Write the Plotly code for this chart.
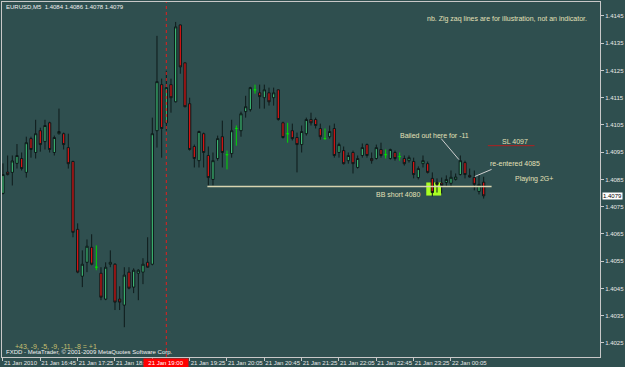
import plotly.graph_objects as go

# ---------------- data ----------------
bar_index = list(range(104))
opens = [1.40799,1.40877,1.40876,1.40909,1.40927,1.40876,1.41000,1.40949,1.41029,1.40989,
         1.41058,1.40949,1.41018,1.41018,1.40967,1.40916,1.40667,1.40495,1.40546,1.40601,
         1.40528,1.40506,1.40411,1.40539,1.40539,1.40411,1.40389,1.40510,1.40455,1.40506,
         1.40510,1.40546,1.40539,1.41029,1.41198,1.41058,1.41198,1.41135,1.41417,1.41278,
         1.41128,1.40971,1.40919,1.41018,1.40938,1.40850,1.40927,1.41007,1.40941,1.40945,
         1.41037,1.41029,1.41099,1.41106,1.41179,1.41168,1.41150,1.41168,1.41150,1.41179,
         1.41058,1.41018,1.41029,1.41004,1.40978,1.41018,1.41070,1.41070,1.41037,1.41000,
         1.41007,1.41037,1.40949,1.40956,1.40919,1.40949,1.40894,1.40938,1.40978,1.40927,
         1.40927,1.40960,1.40941,1.40927,1.40949,1.40934,1.40927,1.40919,1.40916,1.40857,
         1.40908,1.40908,1.40854,1.40839,1.40837,1.40839,1.40836,1.40850,1.40868,1.40912,
         1.40865,1.40857,1.40806,1.40840]
highs = [1.40909,1.40938,1.40938,1.40980,1.40949,1.41007,1.41007,1.41069,1.41040,1.41069,
         1.41062,1.41011,1.41110,1.41022,1.41018,1.40919,1.40689,1.40590,1.40630,1.40649,
         1.40608,1.40528,1.40546,1.40590,1.40543,1.40458,1.40528,1.40528,1.40524,1.40521,
         1.40561,1.40638,1.41077,1.41377,1.41220,1.41249,1.41220,1.41428,1.41418,1.41279,
         1.41150,1.40978,1.41029,1.41022,1.40971,1.40949,1.41011,1.41066,1.40956,1.41069,
         1.41048,1.41099,1.41157,1.41190,1.41198,1.41198,1.41198,1.41187,1.41187,1.41180,
         1.41062,1.41058,1.41055,1.41022,1.41048,1.41077,1.41095,1.41077,1.41055,1.41037,
         1.41048,1.41055,1.40985,1.40971,1.40949,1.40956,1.40938,1.40982,1.40982,1.40949,
         1.40978,1.40985,1.40960,1.40963,1.40956,1.40949,1.40938,1.40938,1.40930,1.40898,
         1.40938,1.40916,1.40876,1.40854,1.40857,1.40865,1.40883,1.40872,1.40938,1.40919,
         1.40890,1.40883,1.40868,1.40860]
lows = [1.40795,1.40865,1.40828,1.40890,1.40883,1.40857,1.40930,1.40927,1.40952,1.40960,
        1.40949,1.40938,1.41015,1.40960,1.40890,1.40638,1.40506,1.40455,1.40510,1.40535,
        1.40517,1.40407,1.40407,1.40528,1.40371,1.40371,1.40308,1.40447,1.40433,1.40407,
        1.40466,1.40526,1.40535,1.40967,1.40930,1.41029,1.41095,1.41133,1.41238,1.41115,
        1.40956,1.40894,1.40894,1.40894,1.40828,1.40828,1.40919,1.40894,1.40887,1.40930,
        1.40974,1.41007,1.41077,1.41099,1.41165,1.41110,1.41110,1.41121,1.41121,1.41066,
        1.41000,1.40985,1.40993,1.40876,1.40949,1.41011,1.41048,1.41037,1.40996,1.40996,
        1.41000,1.40930,1.40930,1.40905,1.40908,1.40872,1.40890,1.40930,1.40930,1.40908,
        1.40923,1.40930,1.40927,1.40923,1.40919,1.40919,1.40901,1.40912,1.40854,1.40850,
        1.40894,1.40872,1.40788,1.40802,1.40799,1.40824,1.40824,1.40846,1.40865,1.40854,
        1.40857,1.40810,1.40795,1.40780]
closes = [1.40868,1.40868,1.40918,1.40938,1.40890,1.40985,1.40960,1.41018,1.40978,1.41048,
          1.40960,1.41004,1.41026,1.40978,1.40908,1.40656,1.40510,1.40539,1.40605,1.40539,
          1.40528,1.40418,1.40528,1.40546,1.40400,1.40400,1.40499,1.40451,1.40517,1.40517,
          1.40539,1.40528,1.41018,1.41209,1.41037,1.41187,1.41150,1.41410,1.41263,1.41117,
          1.40960,1.40927,1.41026,1.40949,1.40857,1.40919,1.41000,1.40949,1.40941,1.41029,
          1.41037,1.41091,1.41117,1.41187,1.41179,1.41154,1.41179,1.41135,1.41168,1.41070,
          1.41004,1.41018,1.41000,1.40978,1.41026,1.41070,1.41058,1.41048,1.41007,1.41000,
          1.41026,1.40938,1.40978,1.40908,1.40938,1.40908,1.40927,1.40967,1.40938,1.40919,
          1.40967,1.40938,1.40941,1.40960,1.40927,1.40934,1.40908,1.40930,1.40868,1.40890,
          1.40919,1.40876,1.40802,1.40832,1.40828,1.40850,1.40858,1.40859,1.40919,1.40868,
          1.40859,1.40832,1.40832,1.40790]

tick_bars = [0, 8, 16, 24, 32, 40, 48, 56, 64, 72, 80, 88, 96]
# the 18:45 label is hidden behind the red vertical-line time box in the reference
tick_labels = ["21 Jan 2010", "21 Jan 16:45", "21 Jan 17:25", "21 Jan 18:05", "",
               "21 Jan 19:25", "21 Jan 20:05", "21 Jan 20:45", "21 Jan 21:25", "21 Jan 22:05",
               "21 Jan 22:45", "21 Jan 23:25", "22 Jan 00:05"]
price_ticks = [1.4025, 1.4035, 1.4045, 1.4055, 1.4065, 1.4075, 1.4085, 1.4095,
               1.4105, 1.4115, 1.4125, 1.4135, 1.4145]

vline_bar = 35
vline_label = "21 Jan 19:00"
bb_level = 1.40824
bb_start, bb_end = 43.8, 104.7
sl_level = 1.40974
entry_box = (90.7, 93.9, 1.40791, 1.40839)
last_price = 1.4079

# ---------------- figure ----------------
BG = "#2f4f4f"
AX = "#c8c8c8"
FONT = "Liberation Sans, Arial, sans-serif"

norm = [i for i in bar_index if opens[i] != closes[i]]
doji = [i for i in bar_index if opens[i] == closes[i]]

fig = go.Figure()
fig.add_trace(go.Candlestick(
    x=[bar_index[i] for i in norm],
    open=[opens[i] for i in norm], high=[highs[i] for i in norm],
    low=[lows[i] for i in norm], close=[closes[i] for i in norm],
    increasing=dict(fillcolor="#3cb371", line=dict(color="#0e1a1a", width=1)),
    decreasing=dict(fillcolor="#d41414", line=dict(color="#0e1a1a", width=1)),
    whiskerwidth=0, hoverinfo="skip", showlegend=False))
fig.add_trace(go.Candlestick(
    x=[bar_index[i] for i in doji],
    open=[opens[i] for i in doji], high=[highs[i] for i in doji],
    low=[lows[i] for i in doji], close=[closes[i] for i in doji],
    increasing=dict(fillcolor="#00dd00", line=dict(color="#00dd00", width=1)),
    decreasing=dict(fillcolor="#00dd00", line=dict(color="#00dd00", width=1)),
    whiskerwidth=0, hoverinfo="skip", showlegend=False))

shapes = [
    dict(type="line", xref="x", yref="paper", x0=vline_bar, x1=vline_bar, y0=0, y1=1,
         line=dict(color="#e02020", width=1, dash="dot")),
    dict(type="line", xref="x", yref="y", x0=bb_start, x1=bb_end, y0=bb_level, y1=bb_level,
         line=dict(color="#d8d4b0", width=1.5)),
    dict(type="rect", xref="x", yref="y", x0=entry_box[0], x1=entry_box[1],
         y0=entry_box[2], y1=entry_box[3], fillcolor="#aaff22", line=dict(width=0),
         layer="below"),
    dict(type="line", xref="x", yref="y", x0=103.9, x1=113.9, y0=sl_level, y1=sl_level,
         line=dict(color="#b02020", width=1)),
    dict(type="line", xref="x", yref="y", x0=93.9, x1=97.7, y0=1.41000, y1=1.40923,
         line=dict(color="#d0d0d0", width=1)),
    dict(type="line", xref="x", yref="y", x0=104.7, x1=101.1, y0=1.40887, y1=1.40861,
         line=dict(color="#d0d0d0", width=1)),
]

txt = "#e4e0b8"
annotations = [
    dict(x=0.004, y=0.986, xref="paper", yref="paper", xanchor="left", yanchor="middle",
         text="EURUSD,M5  1.4084 1.4086 1.4078 1.4079", showarrow=False,
         font=dict(size=6, color="#f0f0f0", family=FONT)),
    dict(x=0.982, y=0.952, xref="paper", yref="paper", xanchor="right", yanchor="middle",
         text="nb. Zig zaq lines are for illustration, not an indicator.", showarrow=False,
         font=dict(size=7, color=txt, family=FONT)),
    dict(x=84.7, y=1.41011, xanchor="left", yanchor="middle", text="Bailed out here for -11",
         showarrow=False, font=dict(size=7, color=txt, family=FONT)),
    dict(x=109.7, y=1.40989, xanchor="center", yanchor="middle", text="SL 4097",
         showarrow=False, font=dict(size=7, color=txt, family=FONT)),
    dict(x=109.7, y=1.40908, xanchor="center", yanchor="middle", text="re-entered 4085",
         showarrow=False, font=dict(size=7, color=txt, family=FONT)),
    dict(x=113.8, y=1.40850, xanchor="center", yanchor="middle", text="Playing 2G+",
         showarrow=False, font=dict(size=7, color=txt, family=FONT)),
    dict(x=84.7, y=1.40795, xanchor="center", yanchor="middle", text="BB short 4080",
         showarrow=False, font=dict(size=7, color=txt, family=FONT)),
    dict(x=0.018, y=0.029, xref="paper", yref="paper", xanchor="left", yanchor="middle",
         text="+43, -9, -5, -9, -11, -8 = +1", showarrow=False,
         font=dict(size=7, color="#c8c070", family=FONT)),
    dict(x=0.003, y=0.013, xref="paper", yref="paper", xanchor="left", yanchor="middle",
         text="FXDD - MetaTrader, © 2001-2009 MetaQuotes Software Corp.", showarrow=False,
         font=dict(size=6, color="#f0f0f0", family=FONT)),
    dict(x=vline_bar, y=0, xref="x", yref="paper", xanchor="center", yanchor="top",
         yshift=-1, text=vline_label, showarrow=False, bgcolor="#ff0000",
         width=44, height=8, borderpad=0, font=dict(size=6, color="#ffffff", family=FONT)),
    dict(x=1, y=last_price, xref="paper", yref="y", xanchor="left", yanchor="middle",
         xshift=2, text="1.4079", showarrow=False, bgcolor="#ffffff", borderpad=0,
         font=dict(size=6, color="#000000", family=FONT)),
]

fig.update_layout(
    width=625, height=367,
    margin=dict(l=1, r=22, t=1, b=10),
    paper_bgcolor=BG, plot_bgcolor=BG,
    showlegend=False, hovermode=False,
    shapes=shapes, annotations=annotations,
    xaxis=dict(range=[-0.21, 127.93], tickvals=tick_bars, ticktext=tick_labels,
               tickangle=0,
               ticks="outside", ticklen=3, tickcolor=AX, showgrid=False, zeroline=False,
               showline=True, linecolor=AX, linewidth=1, mirror=True,
               ticklabelposition="outside right",
               tickfont=dict(size=6, color="#e8e8e8", family=FONT),
               rangeslider=dict(visible=False)),
    yaxis=dict(range=[1.401986, 1.415012], side="right", tickvals=price_ticks,
               tickformat=".4f", ticks="outside", ticklen=3, tickcolor=AX,
               showgrid=False, zeroline=False, showline=True, linecolor=AX, linewidth=1,
               mirror=True, tickfont=dict(size=6, color="#e8e8e8", family=FONT)),
)

fig.write_html("out.html")
